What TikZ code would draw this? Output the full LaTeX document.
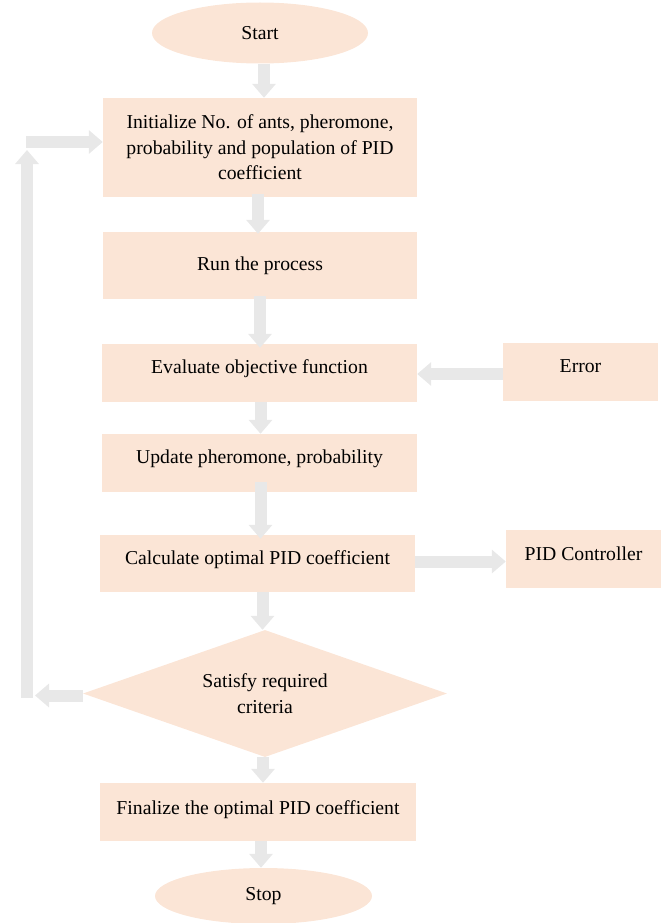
\documentclass[tikz,border=0pt]{standalone}
\usepackage{fontspec}
\setmainfont{Liberation Serif}
\usetikzlibrary{shapes.geometric,arrows.meta}
\definecolor{peach}{HTML}{FBE5D6}
\definecolor{arrowgray}{HTML}{E8E8E8}
\tikzset{
  base/.style={fill=peach, draw=none, font=\fontsize{19.7}{25.5}\selectfont, align=center, inner sep=0pt},
  stepbox/.style={base, rectangle},
  termnode/.style={base, ellipse},
  decide/.style={base, diamond},
  lift/.style={text height=14pt, text depth=#1},
  blockarrow/.style={draw=arrowgray, line width=12pt, -{Triangle[length=14pt,width=23pt]}, color=arrowgray},
}
\begin{document}
\begin{tikzpicture}[x=1pt,y=-1pt]
\useasboundingbox (0,0) rectangle (661,923);
\node[termnode, minimum width=216, minimum height=61] (start) at (260,33) {Start};
\node[stepbox, minimum width=314, minimum height=99] (init) at (260,147.5) {Initialize No. of ants, pheromone,\\probability and population of PID\\coefficient};
\node[stepbox, minimum width=314, minimum height=67] (run) at (260,265.5) {Run the process};
\node[stepbox, minimum width=315, minimum height=58, lift=13pt] (eval) at (259.5,373) {Evaluate objective function};
\node[stepbox, minimum width=155, minimum height=58, lift=13pt] (error) at (580.5,372) {Error};
\node[stepbox, minimum width=315, minimum height=58, lift=12.6pt] (update) at (259.5,463) {Update pheromone, probability};
\node[stepbox, minimum width=315, minimum height=57, lift=11.6pt] (calc) at (257.5,563.5) {Calculate optimal PID coefficient};
\node[stepbox, minimum width=155, minimum height=58, lift=11pt] (pid) at (583.5,559) {PID Controller};
\node[decide, aspect=2.87, minimum width=364, minimum height=127] (crit) at (265,693.5) {Satisfy required\\criteria};
\node[stepbox, minimum width=316, minimum height=58, lift=9pt] (final) at (258,812) {Finalize the optimal PID coefficient};
\node[termnode, minimum width=217, minimum height=56] (stop) at (263.5,896) {Stop};
\coordinate (loopB) at (27,698);
\coordinate (loopT) at (27,150);
\coordinate (loopH) at (26,142);
\draw[blockarrow] ([xshift=4pt]start.south) -- ([xshift=4pt]start.south |- init.north);
\draw[blockarrow] ([xshift=-2pt,yshift=3pt]init.south) -- ([xshift=-2pt,yshift=-2pt]init.south |- run.north);
\draw[blockarrow] ([yshift=3pt]run.south) -- ([yshift=-4pt]run.south |- eval.north);
\draw[blockarrow] ([xshift=1pt]eval.south) -- ([xshift=1pt]eval.south |- update.north);
\draw[blockarrow] ([xshift=1pt,yshift=10pt]update.south) -- ([xshift=1pt,yshift=-4pt]update.south |- calc.north);
\draw[blockarrow] ([xshift=5pt]calc.south) -- ([xshift=5pt]calc.south |- crit.north);
\draw[blockarrow] ([xshift=-2pt]crit.south) -- ([xshift=-2pt]crit.south |- final.north);
\draw[blockarrow] ([xshift=3pt]final.south) -- ([xshift=3pt]final.south |- stop.north);
\draw[blockarrow] ([yshift=-2pt]error.west) -- ([yshift=-2pt]error.west -| eval.east);
\draw[blockarrow] ([yshift=2pt]calc.east) -- ([yshift=2pt]calc.east -| pid.west);
\draw[blockarrow] ([yshift=-2pt]crit.west) -- ([yshift=-2pt]crit.west -| 35,0);
\draw[blockarrow] (loopB) -- (loopT);
\draw[blockarrow] (loopH) -- (loopH -| init.west);
\end{tikzpicture}
\end{document}
